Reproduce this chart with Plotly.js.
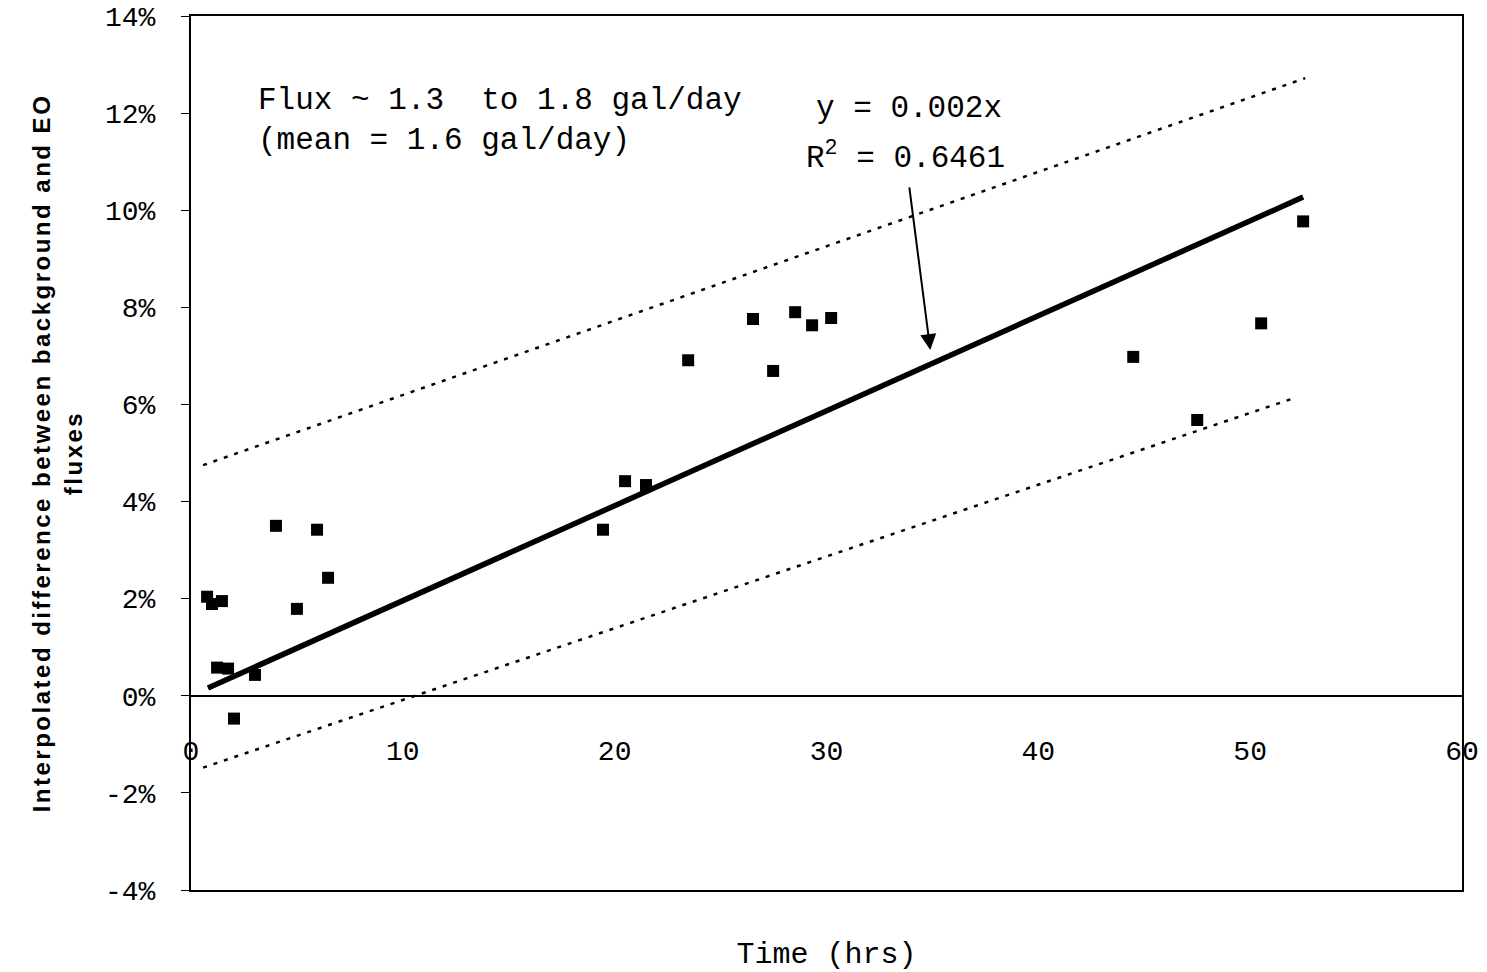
<!DOCTYPE html>
<html>
<head>
<meta charset="utf-8">
<script src="https://cdn.plot.ly/plotly-3.0.1.min.js"></script>
<style>
html,body{margin:0;padding:0;background:#fff;}
#chart{width:1487px;height:972px;}
.g-ytitle text{letter-spacing:2.5px;}
</style>
</head>
<body>
<div id="chart"></div>
<script>
// Observed data points (hours, % difference)
const timeHrs = [0.76, 0.99, 1.46, 1.23, 1.75, 2.03, 3.02, 4.01, 5.00, 5.95, 6.47,
                 19.45, 20.49, 21.48, 23.47, 26.53, 27.48, 28.52, 29.32, 30.22,
                 44.48, 47.50, 50.52, 52.50];
const diffPct = [2.04, 1.89, 1.95, 0.58, 0.56, -0.47, 0.43, 3.50, 1.79, 3.42, 2.43,
                 3.42, 4.42, 4.34, 6.91, 7.76, 6.69, 7.90, 7.63, 7.78,
                 6.98, 5.68, 7.67, 9.77];

// Linear trend line and dotted band
const trendX = [0.8, 52.5];
const trendY = [0.16, 10.27];
const upperX = [0.57, 52.6];
const upperY = [4.75, 12.72];
const lowerX = [0.57, 52.2];
const lowerY = [-1.48, 6.15];

// Tick labels
const yTickVals = [-4, -2, 0, 2, 4, 6, 8, 10, 12, 14];
const yTickText = ["-4%", "-2%", "0%", "2%", "4%", "6%", "8%", "10%", "12%", "14%"];
const xTickVals = [0, 10, 20, 30, 40, 50, 60];

const mono = "Courier New, Liberation Mono, monospace";

const traces = [
  {x: upperX, y: upperY, type: 'scatter', mode: 'lines',
   line: {color: '#000', width: 2.5, dash: '4px,7px'}, hoverinfo: 'skip'},
  {x: lowerX, y: lowerY, type: 'scatter', mode: 'lines',
   line: {color: '#000', width: 2.5, dash: '4px,7px'}, hoverinfo: 'skip'},
  {x: trendX, y: trendY, type: 'scatter', mode: 'lines',
   line: {color: '#000', width: 5.5}},
  {x: timeHrs, y: diffPct, type: 'scatter', mode: 'markers',
   marker: {symbol: 'square', size: 12, color: '#000'}},
  {x: [null], y: [null], xaxis: 'x2', type: 'scatter', mode: 'markers', hoverinfo: 'skip'}
];

const layout = {
  width: 1487, height: 972,
  margin: {l: 191, r: 25, t: 16, b: 82},
  paper_bgcolor: '#fff', plot_bgcolor: '#fff',
  showlegend: false,
  font: {family: mono, color: '#000'},
  xaxis: {
    range: [0, 60], showgrid: false, zeroline: false,
    showline: true, mirror: true, linecolor: '#000', linewidth: 2,
    showticklabels: false, ticks: '',
    title: {text: 'Time (hrs)', font: {family: mono, size: 30, color: '#000'}, standoff: 52}
  },
  xaxis2: {
    overlaying: 'x', anchor: 'free', position: 4/18,
    range: [0, 60], showgrid: false, zeroline: false,
    showline: true, linecolor: '#000', linewidth: 2,
    tickmode: 'array', tickvals: xTickVals, ticks: '',
    ticklabelstandoff: 30,
    tickfont: {family: mono, size: 28, color: '#000'}
  },
  yaxis: {
    range: [-4, 14], showgrid: false, zeroline: false,
    showline: true, mirror: true, linecolor: '#000', linewidth: 2,
    tickmode: 'array', tickvals: yTickVals, ticktext: yTickText,
    ticks: 'outside', ticklen: 8, tickwidth: 1, tickcolor: '#000',
    ticklabelstandoff: 20,
    tickfont: {family: mono, size: 28, color: '#000'},
    title: {text: 'Interpolated difference between background and EO<br>fluxes',
            font: {family: 'Liberation Sans, Arial, sans-serif', size: 24, color: '#000', weight: 'bold'},
            standoff: 16}
  },
  annotations: [
    {x: 3.07, y: 11.85, xref: 'x', yref: 'y', xanchor: 'left', yanchor: 'middle', align: 'left',
     showarrow: false, text: 'Flux ~ 1.3\u00a0\u00a0to 1.8 gal/day<br>(mean = 1.6 gal/day)',
     font: {family: mono, size: 31, color: '#000'}},
    {x: 33.9, y: 12.1, xref: 'x', yref: 'y', xanchor: 'center', yanchor: 'middle',
     showarrow: false, text: 'y = 0.002x',
     font: {family: mono, size: 31, color: '#000'}},
    {x: 34.9, y: 7.12, xref: 'x', yref: 'y', text: 'R<sup>2</sup> = 0.6461',
     font: {family: mono, size: 31, color: '#000'},
     showarrow: true, ax: -25, ay: -194, startstandoff: 10,
     arrowhead: 2, arrowsize: 1.6, arrowwidth: 2, arrowcolor: '#000'}
  ]
};

Plotly.newPlot('chart', traces, layout, {displayModeBar: false, staticPlot: true});
</script>
</body>
</html>
